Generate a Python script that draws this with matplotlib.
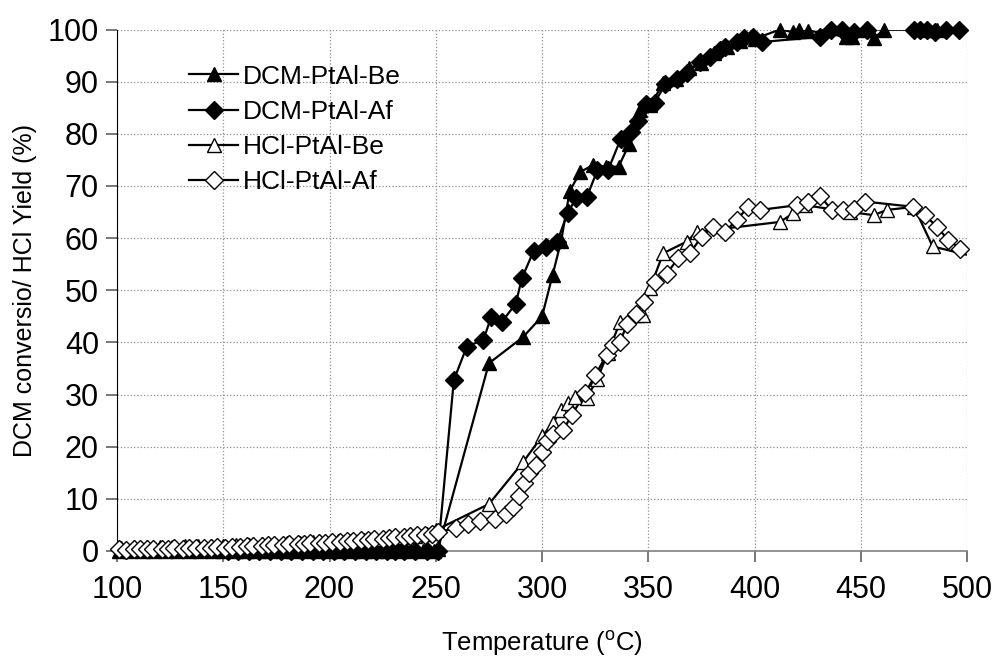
import numpy as np
import matplotlib
matplotlib.use('Agg')
import matplotlib.pyplot as plt
from matplotlib.lines import Line2D

plt.rcParams['font.family'] = ['Liberation Sans', 'DejaVu Sans']
plt.rcParams['mathtext.fontset'] = 'custom'
plt.rcParams['mathtext.rm'] = 'Liberation Sans'

### Data (temperature in C, value in %)
dcm_be_t = [101, 106, 112, 117, 123, 128, 134, 139, 145, 150, 156, 161, 167, 172, 178, 183,
            189, 194, 200, 205, 211, 216, 222, 227, 233, 238, 244, 249, 251,
            275, 291, 300, 305, 309, 313, 318, 324, 330, 336, 341, 346, 351, 357, 363, 369,
            375, 381, 387, 393, 400, 412, 418, 421, 425, 443, 446, 452, 456, 461, 480, 486]
dcm_be_y = [0, 0, 0, 0, 0, 0, 0, 0, 0, 0, 0, 0, 0, 0, 0, 0,
            0, 0, 0, 0, 0, 0, 0, 0, 0, 0, 0, 0, 0.3,
            36, 41, 45, 53, 59.5, 69, 72.7, 74, 73.7, 73.7, 78, 84.6, 85.5, 89.7, 90.6, 92.6,
            93.5, 95.5, 96.7, 97.8, 98.2, 100, 99.5, 100, 99.8, 98.6, 98.6, 100, 98.3, 100, 100, 100]

dcm_af_t = [152, 157, 162, 167, 172, 177, 182, 187, 192, 197, 202, 207, 212, 217, 222,
            227, 231, 235, 240, 246, 251,
            258.5, 264.6, 272.4, 276, 281, 287.6, 290.5, 296, 302, 307, 312, 316, 321,
            326, 331, 337, 342, 345, 349, 353, 358, 363.4, 368, 374.4, 379, 383.8, 386,
            391.6, 394.8, 399.4, 403.4, 430.8, 436, 441, 447, 452.8, 475, 478, 481, 485, 490, 496]
dcm_af_y = [0, 0, 0, 0, 0, 0, 0, 0, 0, 0, 0, 0, 0, 0, 0,
            0, 0, 0, 0, 0, 0,
            32.8, 39.2, 40.5, 44.8, 43.9, 47.4, 52.3, 57.5, 58.3, 59.2, 64.8, 67.6, 67.8,
            73, 73, 79, 80.4, 82.5, 85.8, 86, 89.5, 90.6, 91.6, 93.8, 94.8, 96.1, 96.7,
            97.6, 98.3, 98.6, 97.6, 98.6, 100, 100, 99.5, 100, 100, 100, 100, 99.5, 100, 100]

hcl_be_t = [102, 108, 114, 120, 126, 132, 138, 144, 150, 156, 162, 168, 174, 180, 186,
            192, 198, 204, 210, 216, 222, 228, 234, 240, 246, 250,
            275, 291, 300, 305, 309, 312.4, 315.5, 321, 326, 331, 336.7, 344.7, 347.7, 350.8,
            357, 368, 372.7, 412, 418.3, 423.8, 445, 456, 462.3, 475, 483.8, 503]
hcl_be_y = [0.6, 0.7, 0.7, 0.8, 0.8, 0.9, 0.9, 1.0, 1.0, 1.1, 1.2, 1.3, 1.4, 1.5, 1.6,
            1.7, 1.8, 1.9, 2.0, 2.2, 2.3, 2.5, 2.7, 2.9, 3.2, 4,
            9, 17, 22, 24.5, 27, 28.3, 29.6, 29.3, 33, 38, 43.9, 45.3, 45.3, 50.4,
            57.1, 59.3, 61.2, 63.1, 64.8, 66.3, 65, 64.4, 65.4, 66, 58.4, 56.5]

hcl_af_t = [101, 104, 108, 111, 114, 117, 121, 124, 127, 131, 134, 137, 141, 144, 147,
            151, 154, 158, 161, 164, 168, 171, 174, 178, 181, 185, 188, 191, 195, 198,
            201, 205, 208, 211, 215, 218, 221, 225, 228, 231, 235, 238, 241, 245, 248, 251,
            259.5, 265, 271, 278, 283, 286.5, 289, 291.5, 294, 297, 300, 302.5, 305, 310,
            314, 320.2, 325, 330.4, 333.5, 336.7, 340, 344, 348, 353.2, 358.7, 364, 369.6,
            375.1, 380.6, 386.1, 391.6, 397.1, 402.6, 419.8, 425, 431, 436.3, 441.8, 447,
            452, 474.7, 480.2, 485.7, 491.2, 496.7, 503]
hcl_af_y = [0.3, 0.2, 0.3, 0.3, 0.4, 0.3, 0.4, 0.4, 0.5, 0.4, 0.5, 0.5, 0.6, 0.6, 0.7,
            0.6, 0.8, 0.8, 0.9, 0.9, 1.0, 1.1, 1.1, 1.2, 1.3, 1.3, 1.4, 1.5, 1.6, 1.6,
            1.8, 1.8, 1.9, 2.0, 2.1, 2.2, 2.3, 2.3, 2.5, 2.6, 2.7, 2.8, 3.0, 3.1, 3.3, 3.6,
            4.4, 5.2, 5.8, 6.2, 7, 8.5, 10.5, 13, 15, 16.5, 19, 21, 22.5, 23.2,
            26.1, 30.2, 33.7, 37.6, 39.5, 40.1, 43.5, 45.5, 47.8, 51.6, 53.2, 56.1, 57.1,
            60.3, 62.2, 61.2, 63.5, 66.0, 65.4, 66.3, 67, 68, 65.4, 65.4, 65.5,
            67, 66, 64.4, 62.2, 59.6, 58.0, 56.8]

series = [
    ('DCM-PtAl-Be', dcm_be_t, dcm_be_y, '^', 'black'),
    ('DCM-PtAl-Af', dcm_af_t, dcm_af_y, 'D', 'black'),
    ('HCl-PtAl-Be', hcl_be_t, hcl_be_y, '^', 'white'),
    ('HCl-PtAl-Af', hcl_af_t, hcl_af_y, 'D', 'white'),
]
msize = {'^': 10.5, 'D': 9}

fig = plt.figure(figsize=(9.97, 6.66), dpi=100)
ax = fig.add_axes([0.1174, 0.1727, 0.8526, 0.783])

handles = []
for label, t, y, mk, fc in series:
    t = np.array(t)
    y = np.array(y)
    ### line is clipped at the axes, markers are not
    ax.plot(t, y, color='black', lw=1.6, zorder=3)
    inside = t <= 500
    ax.plot(t[inside], y[inside], ls='none', marker=mk, ms=msize[mk],
            mfc=fc, mec='black', mew=1.0, clip_on=False, zorder=4)
    handles.append(Line2D([], [], color='black', lw=1.6, marker=mk, ms=msize[mk],
                          mfc=fc, mec='black', mew=1.0, label=label))

ax.set_xlim(100, 500)
ax.set_ylim(0, 100)
ax.set_xticks(np.arange(100, 501, 50))
ax.set_yticks(np.arange(0, 101, 10))
ax.grid(True, color='#909090', ls=':', lw=0.9)
ax.set_axisbelow(True)

ax.spines['top'].set_visible(False)
ax.spines['right'].set_visible(False)
ax.spines['left'].set_color('black')
ax.spines['bottom'].set_color('#808080')
ax.spines['bottom'].set_linewidth(1.2)
ax.tick_params(axis='both', direction='out', length=8, width=1.2, color='#606060',
               labelsize=22, pad=5)
ax.tick_params(axis='x', pad=9)

ax.set_xlabel('Temperature ($^{\\mathrm{o}}$C)', fontsize=18.5, labelpad=17)
ax.set_ylabel('DCM conversio/ HCl Yield (%)', fontsize=18, labelpad=8)

ax.legend(handles=handles, loc='upper left', bbox_to_anchor=(0.057, 0.978),
          frameon=False, fontsize=19, handlelength=1.86, handletextpad=0.19,
          labelspacing=0.42)

fig.savefig('out.png', dpi=100)
